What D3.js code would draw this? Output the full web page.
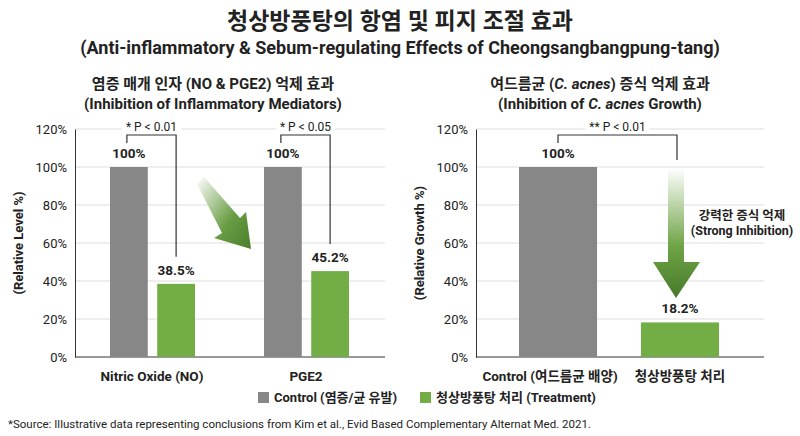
<!DOCTYPE html>
<html><head><meta charset="utf-8">
<script src="https://cdn.jsdelivr.net/npm/d3@7"></script>
<style>body{margin:0;background:#fff}text{font-family:Roboto,"Noto Sans CJK KR",sans-serif}</style>
</head><body><svg id="c" width="800" height="436"></svg>
<script>
var mediators = ["Nitric Oxide (NO)", "PGE2"]
var controlLevel = [100, 100]
var treatLevel = [38.5, 45.2]
var mediatorP = ["* P < 0.01", "* P < 0.05"]
var growthCats = ["Control (여드름균 배양)", "청상방풍탕 처리"]
var growthVals = [100, 18.2]
var growthP = "** P < 0.01"
var yTicks = [0, 20, 40, 60, 80, 100, 120]
var GRAY = "#878787", GREEN = "#73ad45"

var svg = d3.select("#c")
var defs = svg.append("defs")
var g1 = defs.append("linearGradient").attr("id", "gd").attr("x1", 0).attr("y1", 0).attr("x2", 1).attr("y2", 1)
g1.append("stop").attr("offset", 0).attr("stop-color", "#fff")
g1.append("stop").attr("offset", 0.6).attr("stop-color", "#6a9e45")
g1.append("stop").attr("offset", 1).attr("stop-color", "#4a7d2c")
var g2 = defs.append("linearGradient").attr("id", "gv").attr("x1", 0).attr("y1", 0).attr("x2", 0).attr("y2", 1)
g2.append("stop").attr("offset", 0).attr("stop-color", "#fff")
g2.append("stop").attr("offset", 0.6).attr("stop-color", "#6fa446")
g2.append("stop").attr("offset", 1).attr("stop-color", "#477a2a")

svg.append("text").attr("x", 400).attr("y", 29).attr("text-anchor", "middle").attr("font-size", 23).attr("font-weight", "bold").attr("fill", "#222").text("청상방풍탕의 항염 및 피지 조절 효과")
svg.append("text").attr("x", 400).attr("y", 54).attr("text-anchor", "middle").attr("font-size", 18).attr("font-weight", "bold").attr("fill", "#222").text("(Anti-inflammatory & Sebum-regulating Effects of Cheongsangbangpung-tang)")

var y = d3.scaleLinear().domain([0, 120]).range([357, 129])

function panel(x0, x1, ytitle) {
  var g = svg.append("g")
  g.selectAll("line.grid").data(yTicks.slice(1)).enter().append("line")
    .attr("x1", x0).attr("x2", x1).attr("y1", d => y(d)).attr("y2", d => y(d))
    .attr("stroke", "#ddd")
  var ax = g.append("g").attr("transform", "translate(" + x0 + ",0)")
    .call(d3.axisLeft(y).tickValues(yTicks).tickSize(0).tickPadding(8).tickFormat(d => d + "%"))
  ax.select(".domain").attr("stroke", "#333")
  ax.selectAll("text").attr("font-size", 13).attr("fill", "#222")
  g.append("line").attr("x1", x0).attr("x2", x1).attr("y1", 357).attr("y2", 357).attr("stroke", "#333")
  g.append("text").attr("transform", "translate(" + (x0 - 52) + ",243) rotate(-90)").attr("text-anchor", "middle")
    .attr("font-size", 13).attr("font-weight", "bold").attr("fill", "#222").text(ytitle)
  return g
}

function bracket(xa, ya, xb, yb, label) {
  svg.append("path").attr("d", "M" + xa + "," + ya + "V135H" + xb + "V" + yb).attr("fill", "none").attr("stroke", "#333").attr("stroke-width", 1.2)
  var bg = svg.append("rect").attr("fill", "#fff")
  var t = svg.append("text").attr("x", (xa + xb) / 2).attr("y", 131).attr("text-anchor", "middle").attr("font-size", 12).attr("fill", "#222").text(label)
  var b = t.node().getBBox()
  bg.attr("x", b.x - 4).attr("y", b.y).attr("width", b.width + 8).attr("height", b.height)
}

function valLabel(x, v, txt) {
  svg.append("text").attr("x", x).attr("y", y(v) - 9).attr("text-anchor", "middle").attr("font-size", 13.5).attr("font-weight", "bold").attr("fill", "#222").text(txt)
}

// left panel
svg.append("text").attr("x", 213).attr("y", 89).attr("text-anchor", "middle").attr("font-size", 15).attr("font-weight", "bold").attr("fill", "#222").text("염증 매개 인자 (NO & PGE2) 억제 효과")
svg.append("text").attr("x", 213).attr("y", 109).attr("text-anchor", "middle").attr("font-size", 15).attr("font-weight", "bold").attr("fill", "#222").text("(Inhibition of Inflammatory Mediators)")
var lg = panel(75, 385, "(Relative Level %)")
var x0 = d3.scaleBand().domain(mediators).range([75, 383])
var xs = d3.scaleBand().domain(["c", "t"]).range([35, 120]).paddingInner(0.2)
mediators.forEach(function (m, i) {
  var cx = x0(m) + xs("c"), tx = x0(m) + xs("t"), w = xs.bandwidth()
  lg.append("rect").attr("x", cx).attr("width", w).attr("y", y(controlLevel[i])).attr("height", 357 - y(controlLevel[i])).attr("fill", GRAY)
  lg.append("rect").attr("x", tx).attr("width", w).attr("y", y(treatLevel[i])).attr("height", 357 - y(treatLevel[i])).attr("fill", GREEN)
  valLabel(cx + w / 2, controlLevel[i], controlLevel[i] + "%")
  valLabel(tx + w / 2, treatLevel[i], treatLevel[i] + "%")
  lg.append("text").attr("x", x0(m) + x0.bandwidth() / 2).attr("y", 381).attr("text-anchor", "middle").attr("font-size", 13.5).attr("font-weight", "bold").attr("fill", "#222").text(m)
  bracket(cx + w / 2 - 2, 143, tx + w / 2, y(treatLevel[i]) - 27, mediatorP[i])
})
svg.append("path").attr("d", "M197,184 L204,177 L240,218 L246,212 L251,249 L214,238 L222,233 Z").attr("fill", "url(#gd)")

// right panel
svg.append("text").attr("x", 600).attr("y", 89).attr("text-anchor", "middle").attr("font-size", 15).attr("font-weight", "bold").attr("fill", "#222")
  .html("여드름균 (<tspan font-style='italic'>C. acnes</tspan>) 증식 억제 효과")
svg.append("text").attr("x", 600).attr("y", 109).attr("text-anchor", "middle").attr("font-size", 15).attr("font-weight", "bold").attr("fill", "#222")
  .html("(Inhibition of <tspan font-style='italic'>C. acnes</tspan> Growth)")
var rg = panel(476, 764, "(Relative Growth %)")
var xr = d3.scaleBand().domain(growthCats).range([519, 719]).paddingInner(0.36)
growthCats.forEach(function (c, i) {
  rg.append("rect").attr("x", xr(c)).attr("width", xr.bandwidth()).attr("y", y(growthVals[i])).attr("height", 357 - y(growthVals[i])).attr("fill", i ? GREEN : GRAY)
  valLabel(xr(c) + xr.bandwidth() / 2, growthVals[i], growthVals[i] + "%")
  rg.append("text").attr("x", xr(c) + xr.bandwidth() / 2 - (i ? 0 : 8)).attr("y", 381).attr("text-anchor", "middle").attr("font-size", 13.5).attr("font-weight", "bold").attr("fill", "#222").text(c)
})
bracket(558, 143, 677, 160, growthP)
svg.append("path").attr("d", "M668,168 H684 V262 H700 L676,298 L653,262 H668 Z").attr("fill", "url(#gv)")
svg.append("text").attr("x", 742).attr("y", 220).attr("text-anchor", "middle").attr("font-size", 12.5).attr("font-weight", "bold").attr("fill", "#222").text("강력한 증식 억제")
svg.append("text").attr("x", 742).attr("y", 235).attr("text-anchor", "middle").attr("font-size", 12.5).attr("font-weight", "bold").attr("fill", "#222").text("(Strong Inhibition)")

// legend
var legend = [["Control (염증/균 유발)", GRAY, 258], ["청상방풍탕 처리 (Treatment)", GREEN, 420]]
legend.forEach(function (l) {
  svg.append("rect").attr("x", l[2]).attr("y", 392).attr("width", 11).attr("height", 11).attr("fill", l[1])
  svg.append("text").attr("x", l[2] + 16).attr("y", 402).attr("font-size", 13).attr("font-weight", "bold").attr("fill", "#222").text(l[0])
})
svg.append("text").attr("x", 8).attr("y", 428).attr("font-size", 11.5).attr("fill", "#222").text("*Source: Illustrative data representing conclusions from Kim et al., Evid Based Complementary Alternat Med. 2021.")
</script></body></html>
